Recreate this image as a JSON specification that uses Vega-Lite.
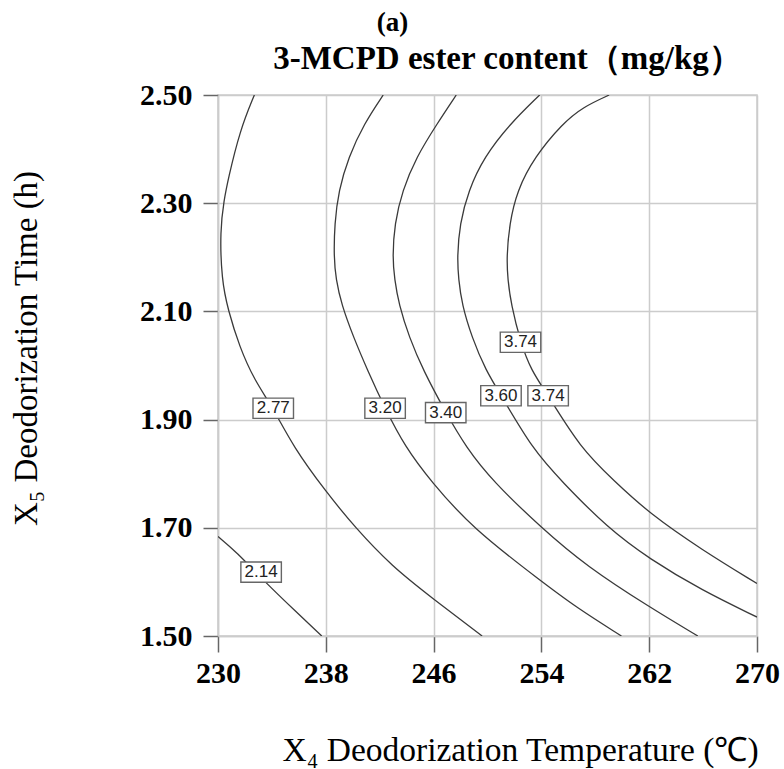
{
  "$schema": "https://vega.github.io/schema/vega-lite/v6.json",
  "width": 539,
  "height": 541,
  "autosize": "none",
  "padding": {"left": 218, "top": 95, "right": 27, "bottom": 133},
  "background": "white",
  "title": {"text": "(a)", "font": "Liberation Serif", "fontSize": 27, "fontWeight": "bold", "color": "#000", "anchor": "middle", "dx": -95, "offset": -16, "baseline": "alphabetic"},
  "config": {"view": {"stroke": "#cccccc", "strokeWidth": 1.5}},
  "datasets": {
    "contours": [
      {"level": "2.14", "x": 230.0, "y": 1.684},
      {"level": "2.14", "x": 231.3, "y": 1.657},
      {"level": "2.14", "x": 233.6, "y": 1.597},
      {"level": "2.14", "x": 235.7, "y": 1.547},
      {"level": "2.14", "x": 237.7, "y": 1.5},
      {"level": "2.77", "x": 232.7, "y": 2.5},
      {"level": "2.77", "x": 231.63, "y": 2.435},
      {"level": "2.77", "x": 230.74, "y": 2.343},
      {"level": "2.77", "x": 230.45, "y": 2.306},
      {"level": "2.77", "x": 230.15, "y": 2.25},
      {"level": "2.77", "x": 230.27, "y": 2.158},
      {"level": "2.77", "x": 230.74, "y": 2.103},
      {"level": "2.77", "x": 231.6, "y": 2.034},
      {"level": "2.77", "x": 232.7, "y": 1.973},
      {"level": "2.77", "x": 234.1, "y": 1.921},
      {"level": "2.77", "x": 235.6, "y": 1.849},
      {"level": "2.77", "x": 238.0, "y": 1.767},
      {"level": "2.77", "x": 240.19, "y": 1.7},
      {"level": "2.77", "x": 242.9, "y": 1.629},
      {"level": "2.77", "x": 245.8, "y": 1.572},
      {"level": "2.77", "x": 249.6, "y": 1.5},
      {"level": "3.20", "x": 242.26, "y": 2.5},
      {"level": "3.20", "x": 240.84, "y": 2.447},
      {"level": "3.20", "x": 239.68, "y": 2.385},
      {"level": "3.20", "x": 238.95, "y": 2.323},
      {"level": "3.20", "x": 238.65, "y": 2.262},
      {"level": "3.20", "x": 238.6, "y": 2.2},
      {"level": "3.20", "x": 238.75, "y": 2.16},
      {"level": "3.20", "x": 239.16, "y": 2.113},
      {"level": "3.20", "x": 240.06, "y": 2.052},
      {"level": "3.20", "x": 241.1, "y": 1.991},
      {"level": "3.20", "x": 242.39, "y": 1.921},
      {"level": "3.20", "x": 243.9, "y": 1.849},
      {"level": "3.20", "x": 245.8, "y": 1.786},
      {"level": "3.20", "x": 248.84, "y": 1.7},
      {"level": "3.20", "x": 254.0, "y": 1.601},
      {"level": "3.20", "x": 256.58, "y": 1.553},
      {"level": "3.20", "x": 259.94, "y": 1.5},
      {"level": "3.40", "x": 247.68, "y": 2.5},
      {"level": "3.40", "x": 246.26, "y": 2.447},
      {"level": "3.40", "x": 244.71, "y": 2.385},
      {"level": "3.40", "x": 243.68, "y": 2.323},
      {"level": "3.40", "x": 243.1, "y": 2.262},
      {"level": "3.40", "x": 242.95, "y": 2.2},
      {"level": "3.40", "x": 243.1, "y": 2.16},
      {"level": "3.40", "x": 243.42, "y": 2.113},
      {"level": "3.40", "x": 244.19, "y": 2.052},
      {"level": "3.40", "x": 245.23, "y": 1.991},
      {"level": "3.40", "x": 246.9, "y": 1.913},
      {"level": "3.40", "x": 248.4, "y": 1.849},
      {"level": "3.40", "x": 250.39, "y": 1.786},
      {"level": "3.40", "x": 254.0, "y": 1.7},
      {"level": "3.40", "x": 257.35, "y": 1.629},
      {"level": "3.40", "x": 262.05, "y": 1.553},
      {"level": "3.40", "x": 265.61, "y": 1.5},
      {"level": "3.60", "x": 253.87, "y": 2.5},
      {"level": "3.60", "x": 251.68, "y": 2.447},
      {"level": "3.60", "x": 249.74, "y": 2.385},
      {"level": "3.60", "x": 248.58, "y": 2.323},
      {"level": "3.60", "x": 247.94, "y": 2.262},
      {"level": "3.60", "x": 247.75, "y": 2.2},
      {"level": "3.60", "x": 247.85, "y": 2.16},
      {"level": "3.60", "x": 248.1, "y": 2.113},
      {"level": "3.60", "x": 248.84, "y": 2.052},
      {"level": "3.60", "x": 249.87, "y": 1.991},
      {"level": "3.60", "x": 251.03, "y": 1.944},
      {"level": "3.60", "x": 253.35, "y": 1.845},
      {"level": "3.60", "x": 255.5, "y": 1.786},
      {"level": "3.60", "x": 258.9, "y": 1.7},
      {"level": "3.60", "x": 262.05, "y": 1.642},
      {"level": "3.60", "x": 265.87, "y": 1.585},
      {"level": "3.60", "x": 270.0, "y": 1.535},
      {"level": "3.74", "x": 259.03, "y": 2.5},
      {"level": "3.74", "x": 257.1, "y": 2.478},
      {"level": "3.74", "x": 255.55, "y": 2.447},
      {"level": "3.74", "x": 253.48, "y": 2.385},
      {"level": "3.74", "x": 252.19, "y": 2.323},
      {"level": "3.74", "x": 251.63, "y": 2.262},
      {"level": "3.74", "x": 251.42, "y": 2.2},
      {"level": "3.74", "x": 251.5, "y": 2.16},
      {"level": "3.74", "x": 251.75, "y": 2.113},
      {"level": "3.74", "x": 252.45, "y": 2.043},
      {"level": "3.74", "x": 253.23, "y": 1.991},
      {"level": "3.74", "x": 254.52, "y": 1.944},
      {"level": "3.74", "x": 256.84, "y": 1.849},
      {"level": "3.74", "x": 259.42, "y": 1.786},
      {"level": "3.74", "x": 262.05, "y": 1.726},
      {"level": "3.74", "x": 265.87, "y": 1.66},
      {"level": "3.74", "x": 270.0, "y": 1.597}
    ],
    "labels": [
      {"text": "2.14", "x": 233.2, "y": 1.618},
      {"text": "2.77", "x": 234.1, "y": 1.921},
      {"text": "3.20", "x": 242.4, "y": 1.921},
      {"text": "3.40", "x": 246.9, "y": 1.913},
      {"text": "3.60", "x": 251.0, "y": 1.944},
      {"text": "3.74", "x": 254.5, "y": 1.944},
      {"text": "3.74", "x": 252.45, "y": 2.043}
    ]
  },
  "layer": [
    {
      "data": {"name": "contours"},
      "mark": {"type": "line", "interpolate": "basis", "color": "#3a3a3a", "strokeWidth": 1.3, "clip": true},
      "encoding": {
        "x": {
          "field": "x", "type": "quantitative",
          "scale": {"domain": [230, 270], "nice": false, "zero": false},
          "axis": {
            "orient": "bottom",
            "values": [230, 238, 246, 254, 262, 270], "format": "d",
            "labelFont": "Liberation Serif", "labelFontSize": 30, "labelFontWeight": "bold", "labelColor": "#000",
            "labelPadding": 6, "labelFlush": false, "labelOverlap": false,
            "tickSize": 16, "tickColor": "#666", "tickWidth": 1.5,
            "domainColor": "#cccccc", "domainWidth": 1.5,
            "grid": true, "gridColor": "#cccccc", "gridWidth": 1.5,
            "title": "X₄ Deodorization Temperature (℃)",
            "titleFont": "Liberation Serif", "titleFontSize": 33.5, "titleFontWeight": "normal", "titleColor": "#000",
            "titleX": 302, "titleY": 124, "titleAlign": "center", "titleBaseline": "alphabetic"
          }
        },
        "y": {
          "field": "y", "type": "quantitative",
          "scale": {"domain": [1.5, 2.5], "nice": false, "zero": false},
          "axis": {
            "values": [1.5, 1.7, 1.9, 2.1, 2.3, 2.5], "format": ".2f",
            "labelFont": "Liberation Serif", "labelFontSize": 30, "labelFontWeight": "bold", "labelColor": "#000",
            "labelPadding": 11, "labelFlush": false, "labelOverlap": false,
            "tickSize": 15, "tickColor": "#666", "tickWidth": 1.5,
            "domainColor": "#cccccc", "domainWidth": 1.5,
            "grid": true, "gridColor": "#cccccc", "gridWidth": 1.5,
            "title": "X₅ Deodorization Time (h)",
            "titleFont": "Liberation Serif", "titleFontSize": 33, "titleFontWeight": "normal", "titleColor": "#000",
            "titleAngle": 270, "titleX": -182, "titleY": 253, "titleAlign": "center", "titleBaseline": "alphabetic"
          }
        },
        "detail": {"field": "level", "type": "nominal"},
        "order": {"field": "y", "type": "quantitative"}
      }
    },
    {
      "data": {"name": "labels"},
      "mark": {"type": "point", "shape": "M-1,-0.5H1V0.5H-1Z", "size": 1640, "filled": true, "fill": "white", "stroke": "#666666", "strokeWidth": 1.4, "opacity": 1},
      "encoding": {
        "x": {"field": "x", "type": "quantitative", "axis": null},
        "y": {"field": "y", "type": "quantitative"}
      }
    },
    {
      "data": {"name": "labels"},
      "mark": {"type": "text", "font": "Liberation Sans", "fontSize": 17, "color": "#222222"},
      "encoding": {
        "x": {
          "field": "x", "type": "quantitative",
          "axis": {
            "orient": "top", "labels": false, "ticks": false, "domain": false, "grid": false,
            "title": "3-MCPD ester content（mg/kg）",
            "titleFont": "Liberation Serif", "titleFontSize": 33, "titleFontWeight": "bold", "titleColor": "#000",
            "titleX": 289, "titleY": -27, "titleAlign": "center", "titleBaseline": "alphabetic"
          }
        },
        "y": {"field": "y", "type": "quantitative"},
        "text": {"field": "text", "type": "nominal"}
      }
    }
  ],
  "resolve": {"axis": {"x": "independent"}}
}
